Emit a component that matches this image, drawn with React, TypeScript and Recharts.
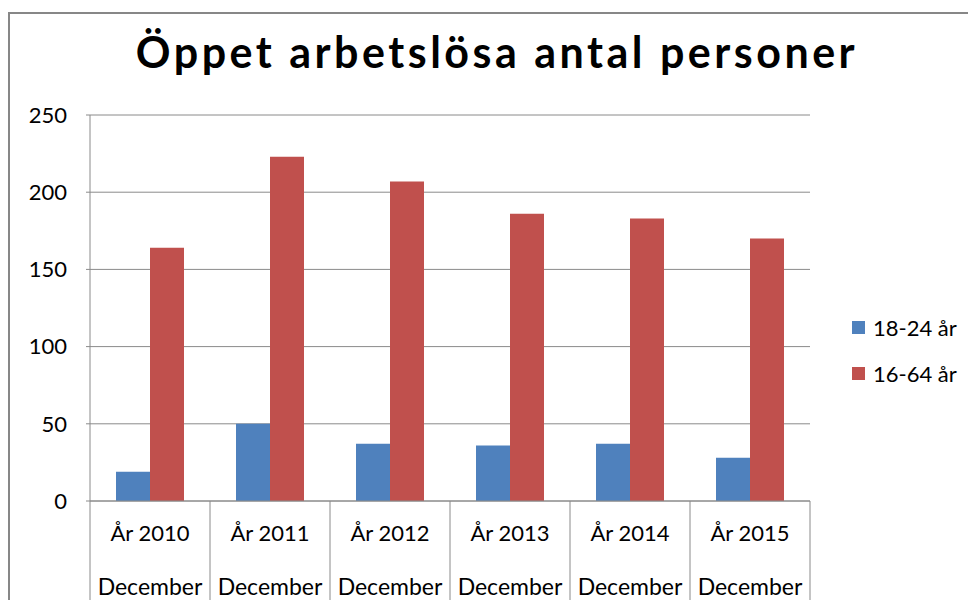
import { BarChart, Bar, XAxis, YAxis, CartesianGrid } from "recharts";

const YEARS = ["År 2010", "År 2011", "År 2012", "År 2013", "År 2014", "År 2015"];
const MONTHS = ["December", "December", "December", "December", "December", "December"];
const YOUNG = [19, 50, 37, 36, 37, 28];
const ALL = [164, 223, 207, 186, 183, 170];
const Y_TICKS = [0, 50, 100, 150, 200, 250];

const SERIES = [
  { key: "young", name: "18-24 år", color: "#4F81BD" },
  { key: "all", name: "16-64 år", color: "#C0504D" },
];

const data = YEARS.map((year, i) => ({
  year,
  month: MONTHS[i],
  young: YOUNG[i],
  all: ALL[i],
}));

const FONT = "Lato, 'Noto Sans', sans-serif";
const GRID = "#8a8a8a";

function CategoryTick(props: any) {
  const { x, y, payload, index } = props;
  const half = payload?.offset || 60;
  const row = data[index];
  return (
    <g>
      <line x1={x - half} y1={y} x2={x - half} y2={y + 99} stroke={GRID} />
      {index === data.length - 1 && (
        <line x1={x + half} y1={y} x2={x + half} y2={y + 99} stroke={GRID} />
      )}
      <text x={x} y={y + 31} textAnchor="middle" dominantBaseline="central" fontSize={22} fontFamily={FONT} fill="#000">
        {payload.value}
      </text>
      <text x={x} y={y + 85} textAnchor="middle" dominantBaseline="central" fontSize={23} fontFamily={FONT} fill="#000">
        {row ? row.month : ""}
      </text>
    </g>
  );
}

function LegendBox() {
  return (
    <div
      style={{
        position: "absolute",
        left: 844,
        top: 296,
        fontFamily: FONT,
        fontSize: 22,
        color: "#000",
      }}
    >
      {SERIES.map((s) => (
        <div key={s.key} style={{ display: "flex", alignItems: "center", height: 46 }}>
          <span style={{ width: 13, height: 13, background: s.color, marginRight: 8 }} />
          <span>{s.name}</span>
        </div>
      ))}
    </div>
  );
}

export default function App() {
  return (
    <div style={{ position: "relative", width: 968, height: 592, overflow: "hidden" }}>
      <div
        style={{
          position: "absolute",
          top: 4,
          left: 0,
          width: 968,
          height: 600,
          borderTop: "2px solid #878787",
          borderLeft: "2px solid #878787",
        }}
      />
      <div
        style={{
          position: "absolute",
          top: 14,
          left: 0,
          width: 978,
          textAlign: "center",
          fontFamily: FONT,
          fontWeight: 700,
          fontSize: 43,
          letterSpacing: 3.5,
          color: "#000",
          lineHeight: "60px",
        }}
      >
        Öppet arbetslösa antal personer
      </div>
      <BarChart
        width={968}
        height={592}
        data={data}
        margin={{ top: 107, right: 166, left: 0, bottom: 0 }}
        barCategoryGap={26}
        barGap={0}
        style={{ position: "absolute", top: 0, left: 0 }}
      >
        <CartesianGrid vertical={false} stroke={GRID} />
        <XAxis
          dataKey="year"
          interval={0}
          height={99}
          tickSize={0}
          tickMargin={0}
          tickLine={false}
          axisLine={{ stroke: GRID }}
          tick={<CategoryTick />}
        />
        <YAxis
          width={82}
          domain={[0, 250]}
          ticks={Y_TICKS}
          tickSize={4}
          tickMargin={19}
          axisLine={{ stroke: GRID }}
          tickLine={{ stroke: GRID }}
          tick={{ fontSize: 22, fontFamily: FONT, fill: "#000" }}
        />
        {SERIES.map((s) => (
          <Bar key={s.key} dataKey={s.key} name={s.name} fill={s.color} isAnimationActive={false} />
        ))}
      </BarChart>
      <LegendBox />
    </div>
  );
}
